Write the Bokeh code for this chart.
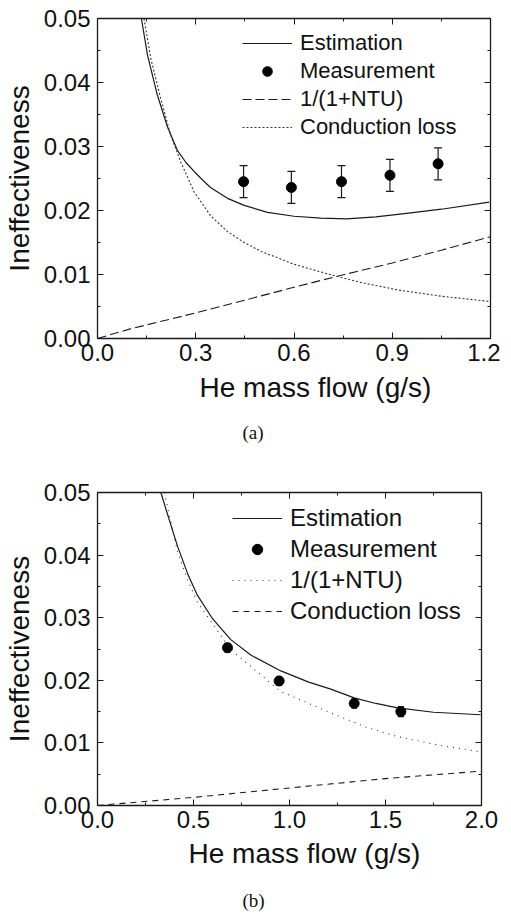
from bokeh.plotting import figure
from bokeh.layouts import column
from bokeh.models import (Range1d, LinearAxis, SingleIntervalTicker, NumeralTickFormatter,
                          CustomJSTickFormatter, Title, Whisker, TeeHead, ColumnDataSource)
from bokeh.embed import file_html
from bokeh.resources import INLINE

# ---------------- Panel (a) data ----------------
a_est_x = [0.134, 0.153, 0.183, 0.214, 0.244, 0.270, 0.295, 0.320, 0.345, 0.397, 0.448, 0.519, 0.600, 0.682, 0.760, 0.850, 0.950, 1.050, 1.196]
a_est_y = [0.0500, 0.0442, 0.0380, 0.0330, 0.0294, 0.0275, 0.0261, 0.0248, 0.0236, 0.0219, 0.0208, 0.0197, 0.0191, 0.0188, 0.0187, 0.0190, 0.0196, 0.0202, 0.0213]
a_meas_x = [0.446, 0.592, 0.745, 0.893, 1.040]
a_meas_y = [0.0245, 0.0236, 0.0245, 0.0255, 0.0273]
a_meas_err = [0.0025, 0.0025, 0.0025, 0.0025, 0.0025]
a_ntu_x = [0.0, 0.1, 0.3, 0.45, 0.6, 0.73, 0.9, 1.05, 1.2]
a_ntu_y = [0.0, 0.0015, 0.0040, 0.0060, 0.0080, 0.0097, 0.0118, 0.0138, 0.0159]
a_cond_x = [0.142, 0.163, 0.193, 0.224, 0.254, 0.295, 0.345, 0.397, 0.448, 0.500, 0.600, 0.702, 0.800, 0.916, 1.050, 1.196]
a_cond_y = [0.0500, 0.0437, 0.0375, 0.0317, 0.0276, 0.0229, 0.0192, 0.0167, 0.0150, 0.0136, 0.0116, 0.0101, 0.0088, 0.0076, 0.0066, 0.0058]

# ---------------- Panel (b) data ----------------
b_est_x = [0.33, 0.37, 0.417, 0.47, 0.52, 0.60, 0.694, 0.80, 0.955, 1.10, 1.215, 1.337, 1.45, 1.563, 1.75, 1.995]
b_est_y = [0.0500, 0.0460, 0.0414, 0.0370, 0.0336, 0.0298, 0.0265, 0.0240, 0.0215, 0.0197, 0.0186, 0.0172, 0.0163, 0.0156, 0.0149, 0.0145]
b_meas_x = [0.677, 0.946, 1.337, 1.580]
b_meas_y = [0.0252, 0.0199, 0.0163, 0.0150]
b_meas_err = [0.0007, 0.0007, 0.0007, 0.0008]
b_ntu_x = [0.348, 0.417, 0.47, 0.52, 0.694, 0.955, 1.215, 1.40, 1.563, 1.80, 1.995]
b_ntu_y = [0.0500, 0.0405, 0.0360, 0.0325, 0.0249, 0.0182, 0.0148, 0.0125, 0.0110, 0.0095, 0.0086]
b_cond_x = [0.0, 0.5, 1.0, 1.5, 2.0]
b_cond_y = [0.0, 0.0013, 0.0028, 0.0043, 0.0055]

legend_labels = ["Estimation", "Measurement", "1/(1+NTU)", "Conduction loss"]
x_label = "He mass flow (g/s)"
y_label = "Ineffectiveness"

FONT = "Liberation Sans"
LC = "#1a1a1a"
TC = "#111111"


def mirror_axis(interval):
    return LinearAxis(ticker=SingleIntervalTicker(interval=interval, num_minor_ticks=2),
                      formatter=CustomJSTickFormatter(code="return ''"),
                      major_tick_in=6, major_tick_out=0, minor_tick_in=3, minor_tick_out=0,
                      axis_line_color=LC, axis_line_width=1.3,
                      major_tick_line_color=LC, minor_tick_line_color=LC,
                      major_label_standoff=0, major_label_text_font_size="1px")


def style_axes(p, xint):
    p.xaxis.ticker = SingleIntervalTicker(interval=xint, num_minor_ticks=2)
    p.yaxis.ticker = SingleIntervalTicker(interval=0.01, num_minor_ticks=2)
    p.xaxis.formatter = NumeralTickFormatter(format="0.0")
    p.yaxis.formatter = NumeralTickFormatter(format="0.00")
    for ax in (p.xaxis[0], p.yaxis[0]):
        ax.major_tick_in = 6
        ax.major_tick_out = 0
        ax.minor_tick_in = 3
        ax.minor_tick_out = 0
        ax.axis_line_color = LC
        ax.axis_line_width = 1.3
        ax.major_tick_line_color = LC
        ax.minor_tick_line_color = LC
        ax.major_label_text_font = FONT
        ax.major_label_text_font_size = "24px"
        ax.major_label_text_color = TC
    p.xaxis.major_label_standoff = 5
    p.yaxis.major_label_standoff = 7
    p.yaxis.axis_label = y_label
    p.yaxis.axis_label_text_font = FONT
    p.yaxis.axis_label_text_font_size = "28px"
    p.yaxis.axis_label_text_font_style = "normal"
    p.yaxis.axis_label_standoff = 6
    p.yaxis.axis_label_text_color = TC
    p.add_layout(mirror_axis(xint), "above")
    p.add_layout(mirror_axis(0.01), "right")
    p.xgrid.visible = False
    p.ygrid.visible = False
    p.outline_line_color = None


def add_titles(p, xlabel_offset, xlabel_standoff, cap, cap_offset, cap_standoff):
    p.add_layout(Title(text=x_label, align="left", offset=xlabel_offset,
                       text_font=FONT, text_font_size="28px", text_font_style="normal",
                       text_color=TC, standoff=xlabel_standoff), "below")
    p.add_layout(Title(text=cap, align="left", offset=cap_offset,
                       text_font="Liberation Serif", text_font_size="19px", text_font_style="normal",
                       text_color=TC, standoff=cap_standoff), "below")


def style_legend(p, loc, fsize, row_h, spacing):
    lg = p.legend[0]
    lg.location = loc
    lg.border_line_alpha = 0
    lg.background_fill_alpha = 0
    lg.label_text_font = FONT
    lg.label_text_font_size = fsize
    lg.label_text_color = TC
    lg.glyph_width = 50
    lg.glyph_height = row_h
    lg.label_height = row_h
    lg.label_standoff = 8
    lg.spacing = spacing
    lg.padding = 0
    lg.margin = 0


def add_meas(p, xs, ys, errs, head, label):
    src = ColumnDataSource(dict(x=xs, y=ys,
                                lo=[y - e for y, e in zip(ys, errs)],
                                hi=[y + e for y, e in zip(ys, errs)]))
    p.add_layout(Whisker(base="x", upper="hi", lower="lo", source=src, dimension="height",
                         line_color=LC, line_width=1.2,
                         upper_head=TeeHead(size=head, line_color=LC, line_width=1.2),
                         lower_head=TeeHead(size=head, line_color=LC, line_width=1.2)))
    p.scatter("x", "y", source=src, size=10, color="black", legend_label=label)


# ---------------- Figure (a) ----------------
pa = figure(frame_width=393, frame_height=320, x_range=Range1d(0, 1.2), y_range=Range1d(0, 0.05),
            output_backend="svg", toolbar_location=None,
            min_border_left=92, min_border_right=10, min_border_top=18, min_border_bottom=106,
            background_fill_color="white", border_fill_color="white")
style_axes(pa, 0.3)
pa.line(a_est_x, a_est_y, line_color=LC, line_width=1.2, legend_label=legend_labels[0])
add_meas(pa, a_meas_x, a_meas_y, a_meas_err, 8, legend_labels[1])
pa.line(a_ntu_x, a_ntu_y, line_color=LC, line_width=1.1, line_dash="9 4", legend_label=legend_labels[2])
pa.line(a_cond_x, a_cond_y, line_color="#333333", line_width=1.1, line_dash="2 2", legend_label=legend_labels[3])
style_legend(pa, (145, 198), "22px", 24, 2)
add_titles(pa, 102, 12, "(a)", 145, 22)

# ---------------- Figure (b) ----------------
pb = figure(frame_width=384, frame_height=313, x_range=Range1d(0, 2.0), y_range=Range1d(0, 0.05),
            output_backend="svg", toolbar_location=None,
            min_border_left=92, min_border_right=19, min_border_top=39, min_border_bottom=100,
            background_fill_color="white", border_fill_color="white")
style_axes(pb, 0.5)
pb.line(b_est_x, b_est_y, line_color=LC, line_width=1.2, legend_label=legend_labels[0])
add_meas(pb, b_meas_x, b_meas_y, b_meas_err, 6, legend_labels[1])
pb.line(b_ntu_x, b_ntu_y, line_color="#333333", line_width=1.1, line_dash="1 5", legend_label=legend_labels[2])
pb.line(b_cond_x, b_cond_y, line_color=LC, line_width=1.1, line_dash="6 5", legend_label=legend_labels[3])
style_legend(pb, (135, 180), "24px", 26, 3)
add_titles(pb, 91, 11, "(b)", 145, 26)

layout = column(pa, pb, spacing=0)
open("out.html", "w").write(file_html(layout, INLINE))
